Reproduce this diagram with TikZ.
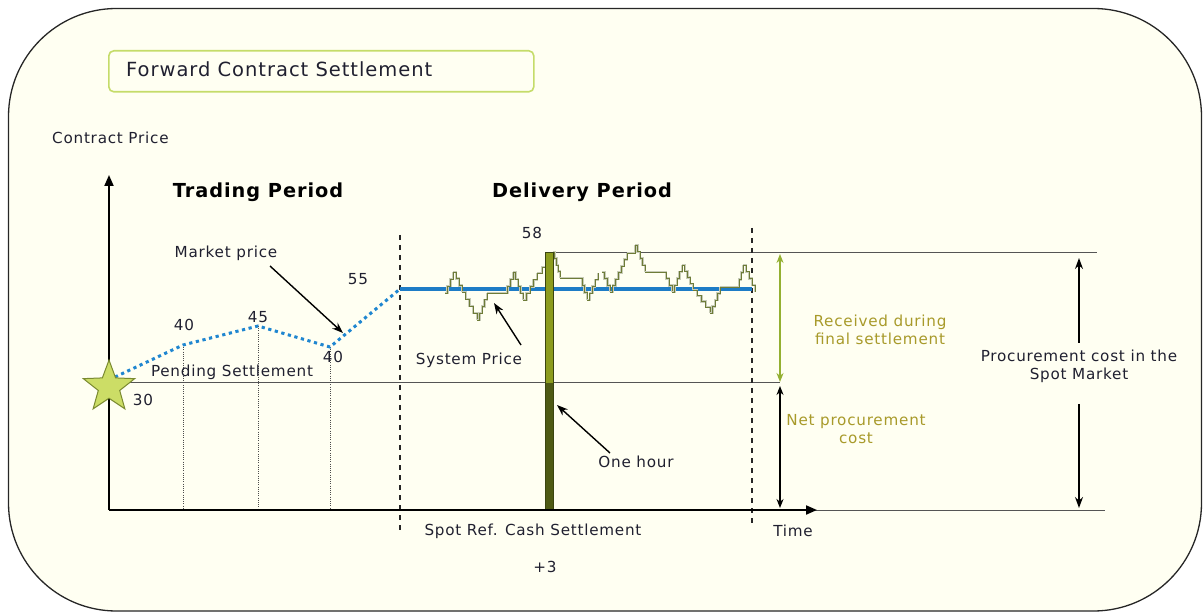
\documentclass[tikz,border=0pt]{standalone}
\usepackage{fontspec}
\setmainfont{DejaVu Sans}[LetterSpace=5]
\usetikzlibrary{arrows.meta,shapes.geometric}
\definecolor{cream}{HTML}{FFFFF2}
\definecolor{titleg}{HTML}{C5DC6A}
\definecolor{sysblue}{HTML}{1E7CC6}
\definecolor{dotblue}{HTML}{1F86D0}
\definecolor{starfill}{HTML}{CCDD66}
\definecolor{stardraw}{HTML}{7A8A30}
\definecolor{barup}{HTML}{8C9C1E}
\definecolor{bardown}{HTML}{4E5A14}
\definecolor{barline}{HTML}{3A4410}
\definecolor{garrow}{HTML}{94B032}
\definecolor{olivetxt}{HTML}{A89A2A}
\definecolor{txt}{HTML}{202030}
\definecolor{grayline}{HTML}{555555}
\definecolor{stairc}{HTML}{6E7C38}
\definecolor{halocol}{HTML}{C8CCB8}
\tikzset{
  lbl/.style={font=\fontsize{15.2}{18}\selectfont, text=txt, inner sep=0pt, align=center},
  olbl/.style={lbl, text=olivetxt},
  head/.style={font=\fontsize{19.3}{22}\selectfont\bfseries, text=black, inner sep=0pt},
  axis/.style={line width=2pt, -{Triangle[length=11pt,width=9pt]}},
  pointer/.style={line width=1.4pt, -{Stealth[length=11pt,width=8pt]}},
  dimarrow/.style={line width=1.4pt, {Stealth[length=9pt,width=7pt]}-{Stealth[length=9pt,width=7pt]}},
  vdash/.style={line width=1.2pt, dash pattern=on 5pt off 5pt, black!85},
  vdot/.style={line width=0.8pt, dash pattern=on 1pt off 1.2pt, black!70},
  thin/.style={line width=1pt, grayline},
  haloline/.style={line width=2.4pt, halocol},
  stairline/.style={line width=0.9pt, stairc},
}
\begin{document}
\begin{tikzpicture}[x=1pt,y=-1pt]
\useasboundingbox (0,0) rectangle (1203,612);
% outer frame
\draw[fill=cream, line width=1.3pt, draw=black!85, rounded corners=108pt] (8.5,8.5) rectangle (1201.5,611);
% title box
\node[draw=titleg, line width=1.6pt, rounded corners=5pt, minimum width=425pt, minimum height=41pt, anchor=north west, inner sep=0pt] (titlebox) at (108,50) {};
\node[lbl, font=\fontsize{19.5}{22}\selectfont, anchor=west] (title) at (126,69) {Forward Contract Settlement};
% axis labels
\node[lbl, anchor=west] (cp) at (52,138) {Contract Price};
\node[head] (tp) at (258,192) {Trading Period};
\node[head] (dp) at (582,192) {Delivery Period};
% reference lines
\draw[thin] (109,383) -- (780,383);
\draw[thin] (548,253) -- (1097,253);
\draw[thin] (815,510) -- (1105,510);
% dashed period boundaries
\draw[vdash] (400,235) -- (400,532);
\draw[vdash] (752,228) -- (752,526);
% dotted verticals
\coordinate (p0) at (115,377);
\coordinate (p1) at (183,345);
\coordinate (p2) at (258,326);
\coordinate (p3) at (330,347);
\coordinate (p4) at (400,289);
\draw[vdot] (p1) -- (183,510);
\draw[vdot] (p2) -- (258,510);
\draw[vdot] (p3) -- (330,510);
% system price baseline
\coordinate (s0) at (400,289);
\coordinate (s1) at (752,289);
\draw[sysblue, line width=3.2pt] (s0) -- (s1);
% stair line (system price)
\foreach \xa/\ya/\xb/\yb in {
 445/293/453/272, 453/272/462/292, 462/292/477/320, 477/320/487/293,
 487/293/505/293, 505/293/513/272, 513/272/523/300, 523/300/537/273,
 537/273/547/261, 553/252/560/278, 560/278/580/278, 580/278/587/300,
 587/300/598/273, 602/272/610/292, 610/292/627/253, 627/253/635/245,
 635/245/645/272, 645/272/663/272, 663/272/672/292, 672/292/682/265,
 682/265/693/290, 693/290/710/313, 710/313/720/287, 720/287/737/287,
 737/287/743/265, 743/265/755/292}{
  \pgfmathtruncatemacro\n{max(1,round(abs(\yb-\ya)/6.5))}
  \pgfmathsetmacro\dx{(\xb-\xa)/\n}
  \pgfmathsetmacro\dy{(\yb-\ya)/\n}
  \draw[haloline] (\xa,\ya) \foreach \i in {1,...,\n}{ -| ++(\dx,\dy) };
  \draw[stairline] (\xa,\ya) \foreach \i in {1,...,\n}{ -| ++(\dx,\dy) };
}
% market price dotted
\draw[dotblue, line width=3pt, dash pattern=on 3.2pt off 3.6pt] (p0) -- (p1) -- (p2) -- (p3) -- (p4);
% one hour bar
\fill[barup] (545,253) rectangle (553,383);
\fill[bardown] (545,383) rectangle (553,510);
\draw[barline, line width=1pt] (545,253) rectangle (553,510);
% axes
\coordinate (origin) at (109,510);
\coordinate (ytop) at (109,175);
\coordinate (xend) at (817,510);
\draw[axis] (origin) -- (ytop);
\draw[axis] (origin) -- (xend);
% star
\node[star, star points=5, star point ratio=2.4, minimum size=54pt, inner sep=0pt, fill=starfill, draw=stardraw, line width=1pt] (star) at (109,387) {};
% price labels
\node[lbl] (l40a) at (184,325) {40};
\node[lbl] (l45) at (258,317) {45};
\node[lbl] (l40b) at (333,357) {40};
\node[lbl] (l55) at (358,279) {55};
\node[lbl] (l30) at (143,400) {30};
\node[lbl] (l58) at (532,233) {58};
\node[lbl] (pend) at (232,372) {Pending Settlement};
% market price pointer
\node[lbl] (mp) at (226,253) {Market price};
\coordinate (mpa) at (270,266);
\coordinate (mpb) at (343,333);
\draw[pointer] (mpa) -- (mpb);
% system price pointer
\node[lbl] (spl) at (469,360) {System Price};
\coordinate (spa) at (521,345);
\coordinate (spb) at (494,303);
\draw[pointer] (spa) -- (spb);
% one hour pointer
\node[lbl] (oh) at (636,462) {One hour};
\coordinate (oha) at (610,453);
\coordinate (ohb) at (557,405);
\draw[pointer] (oha) -- (ohb);
% dimension arrows
\coordinate (ga) at (780,254);
\coordinate (gb) at (780,382);
\draw[dimarrow, garrow] (ga) -- (gb);
\coordinate (ba) at (780,386);
\coordinate (bb) at (780,508);
\draw[dimarrow, black] (ba) -- (bb);
\node[olbl] (recv) at (880,330) {Received during\\final settlement};
\node[olbl] (net) at (856,429) {Net procurement\\cost};
\node[lbl] (proc) at (1079,366) {Procurement cost in the\\Spot Market};
\coordinate (pa) at (1079,343);
\coordinate (pb) at (1079,258);
\coordinate (pc) at (1079,404);
\coordinate (pd) at (1079,508);
\draw[pointer] (pa) -- (pb);
\draw[pointer] (pc) -- (pd);
% bottom labels
\node[lbl] (spot) at (533,531) {Spot Ref. Cash Settlement};
\node[lbl] (plus) at (545,567) {+3};
\node[lbl] (time) at (793,531) {Time};
\end{tikzpicture}
\end{document}
